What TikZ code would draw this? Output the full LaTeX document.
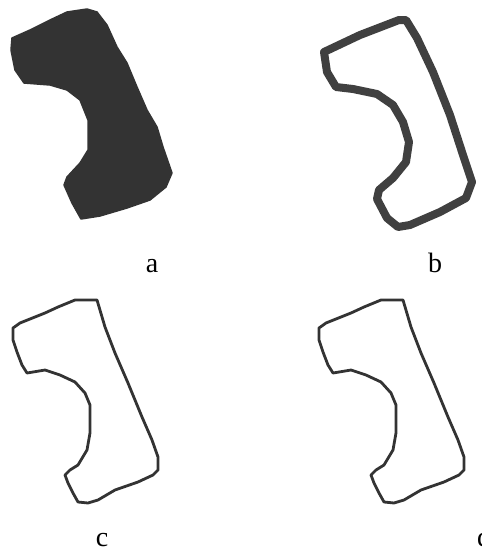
\documentclass[tikz,border=0pt]{standalone}
\usepackage{fontspec}
\setmainfont{Liberation Serif}
\usepackage{tikz}

% outline of the thin contour (panel c, reused for d)
\newcommand{\thinoutline}{(13,328) -- (20,323) -- (45,313) -- (58,307) -- (75,300) -- (97,300)
  -- (105,327) -- (115,353) -- (128,383) -- (142,417) -- (152,440) -- (158,457) -- (158,470)
  -- (153,475) -- (138,482) -- (115,490) -- (98,500) -- (88,503) -- (78,502) -- (73,493)
  -- (68,483) -- (65,475) -- (70,470) -- (78,465) -- (87,450) -- (90,433) -- (90,405)
  -- (85,393) -- (75,382) -- (60,375) -- (45,370) -- (27,373) -- (22,365) -- (17,352)
  -- (13,340) -- cycle}

\begin{document}
\begin{tikzpicture}[x=1pt, y=-1pt,
  solid region/.style={fill=black!80, draw=black!80, line width=1.5pt, line join=round},
  thick contour/.style={draw=black!75, line width=8pt, line join=round},
  thin contour/.style={draw=black!80, line width=2.8pt, line join=round},
  panel label/.style={font=\fontsize{28}{34}\selectfont, anchor=base, inner sep=0pt}]
\clip (0,0) rectangle (482,550);
\fill[white] (0,0) rectangle (482,550);
% a: the filled region
\path[solid region] (12,38) -- (30,30) -- (50,20) -- (67,12) -- (87,9) -- (97,12) -- (107,25)
  -- (117,47) -- (127,63) -- (137,87) -- (147,110) -- (157,127) -- (163,147) -- (172,173)
  -- (166,187) -- (150,200) -- (127,208) -- (100,216) -- (81,219) -- (72,203) -- (64,185)
  -- (67,177) -- (80,163) -- (88,150) -- (88,120) -- (80,100) -- (67,90) -- (50,85)
  -- (24,83) -- (15,70) -- (11,50) -- cycle;
% b: its thick boundary
\draw[thick contour] (399,20) -- (360,35) -- (324,52) -- (327,72) -- (336,87) -- (353,89)
  -- (377,94) -- (393,105) -- (403,122) -- (409,142) -- (406,162) -- (393,178) -- (379,190)
  -- (377,199) -- (387,218) -- (398,227) -- (410,225) -- (440,212) -- (466,198) -- (472,182)
  -- (463,155) -- (450,115) -- (433,72) -- (417,38) -- (406,20) -- cycle;
% c and d: thin contours
\draw[thin contour] \thinoutline;
\begin{scope}[shift={(306,0)}]
\draw[thin contour] \thinoutline;
\end{scope}
\node[panel label] (lblA) at (152,272) {a};
\node[panel label] (lblB) at (435,272) {b};
\node[panel label] (lblC) at (102,546) {c};
\node[panel label] (lblD) at (484,546) {d};
\end{tikzpicture}
\end{document}
